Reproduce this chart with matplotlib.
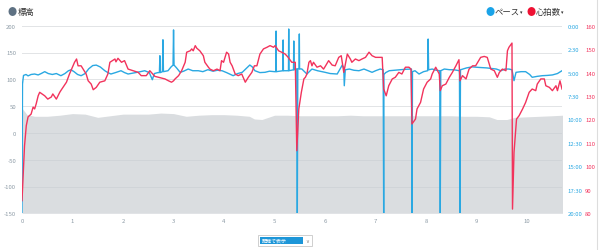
import matplotlib
matplotlib.use("Agg")
import matplotlib.pyplot as plt
from matplotlib.patches import Rectangle

plt.rcParams['font.family'] = ['Noto Sans CJK JP', 'DejaVu Sans']

# ---------------- data ----------------
elev_km = [0.0, 0.1, 0.25, 0.5, 0.75, 1.0, 1.25, 1.5, 1.75, 2.0, 2.25, 2.5, 2.75, 3.0,
           3.25, 3.5, 3.75, 4.0, 4.25, 4.5, 4.6, 4.75, 5.0, 5.25, 5.5, 5.75, 6.0, 6.25,
           6.5, 6.75, 7.0, 7.25, 7.5, 7.75, 8.0, 8.25, 8.5, 8.75, 9.0, 9.25, 9.4, 9.6,
           9.75, 10.0, 10.25, 10.5, 10.7]
elev_m = [46, 34, 31, 31, 33, 36, 35, 29, 32, 35, 35, 35, 37, 36,
          31, 33, 34, 34, 33, 31, 26, 25, 33, 33, 32, 32, 32, 32,
          33, 32, 32, 32, 32, 32, 32, 32, 32, 31, 31, 30, 25, 25,
          29, 30, 31, 32, 33]

pace_km = [0.0, 0.01, 0.03, 0.08, 0.12, 0.18, 0.25, 0.32, 0.38, 0.45, 0.52, 0.6, 0.68,
           0.77, 0.85, 0.92, 0.97, 1.03, 1.1, 1.17, 1.25, 1.32, 1.4, 1.47, 1.55, 1.64,
           1.7, 1.76, 1.85, 1.96, 2.03, 2.1, 2.2, 2.3, 2.43, 2.52, 2.58, 2.62, 2.69,
           2.72, 2.73, 2.74, 2.78, 2.79, 2.80, 2.89, 2.95, 2.99, 3.0, 3.01, 3.06, 3.13,
           3.2, 3.29, 3.38, 3.49, 3.58, 3.68, 3.78, 3.87, 3.96, 4.05, 4.18, 4.27, 4.36,
           4.45, 4.51, 4.56, 4.61, 4.71, 4.81, 4.9, 5.0, 5.025, 5.03, 5.035, 5.165,
           5.17, 5.175, 5.275, 5.28, 5.285, 5.375, 5.38, 5.385, 5.44, 5.45, 5.46, 5.485,
           5.49, 5.495, 5.54, 5.64, 5.74, 5.85, 6.0, 6.1, 6.24, 6.34, 6.37, 6.38, 6.40,
           6.48, 6.57, 6.67, 6.77, 6.85, 6.93, 7.0, 7.09, 7.15, 7.16, 7.165, 7.2, 7.27,
           7.37, 7.47, 7.58, 7.68, 7.71, 7.72, 7.73, 7.78, 7.86, 7.95, 8.03, 8.04, 8.05,
           8.12, 8.2, 8.27, 8.28, 8.29, 8.36, 8.46, 8.55, 8.66, 8.67, 8.68, 8.8, 8.91,
           9.05, 9.2, 9.39, 9.48, 9.56, 9.64, 9.7, 9.74, 9.78, 9.88, 9.97, 10.05, 10.1,
           10.2, 10.3, 10.4, 10.5, 10.6, 10.69]
pace_min = [20.0, 6.2, 5.3, 5.2, 5.35, 5.2, 5.15, 5.25, 5.1, 4.9, 5.1, 5.2, 5.1,
            5.33, 5.1, 4.8, 4.7, 4.9, 5.2, 5.33, 5.1, 4.6, 4.25, 4.2, 4.4, 4.8,
            5.0, 5.15, 5.0, 4.8, 5.0, 5.15, 5.05, 4.95, 4.8, 5.0, 5.76, 5.1, 5.0,
            5.0, 3.2, 5.0, 4.9, 1.5, 4.9, 4.8, 4.4, 4.2, 0.45, 4.2, 4.5, 4.97,
            4.85, 4.62, 4.8, 4.8, 4.9, 4.69, 4.85, 4.75, 4.8, 5.0, 5.33, 5.1, 4.97,
            4.5, 4.19, 4.4, 4.8, 5.0, 4.97, 4.85, 4.9, 4.9, 0.57, 4.9,
            4.8, 1.52, 4.8, 4.8, 0.35, 4.8, 4.7, 1.63, 4.7, 4.6, 20.0, 4.6, 4.6,
            0.88, 4.6, 4.62, 5.15, 4.62, 4.8, 4.97, 5.1, 5.15, 4.2, 4.5, 6.4, 4.7,
            4.62, 4.75, 4.8, 4.62, 4.8, 4.97, 4.8, 4.62, 4.7, 20.0, 5.2, 5.0, 4.8,
            4.75, 4.7, 4.65, 4.62, 4.62, 20.0, 4.9, 4.8, 5.15, 4.9, 4.8, 1.42, 4.7,
            4.62, 4.75, 4.8, 20.0, 4.8, 4.62, 4.69, 4.7, 4.8, 20.0, 4.7, 4.5, 4.39,
            4.45, 4.5, 4.62, 4.8, 4.62, 4.62, 4.7, 5.86, 4.97, 4.9, 4.9, 5.2, 5.5,
            5.4, 5.33, 5.3, 5.25, 5.1, 4.8]

hr_km = [0.0, 0.05, 0.085, 0.12, 0.18, 0.22, 0.25, 0.28, 0.32, 0.35, 0.45, 0.51, 0.58,
         0.61, 0.68, 0.75, 0.78, 0.88, 0.94, 1.04, 1.08, 1.11, 1.17, 1.21, 1.27, 1.31,
         1.37, 1.41, 1.47, 1.54, 1.64, 1.70, 1.74, 1.84, 1.86, 1.90, 1.97, 2.03, 2.10,
         2.20, 2.30, 2.36, 2.46, 2.53, 2.63, 2.70, 2.83, 2.90, 2.96, 3.0, 3.03, 3.10,
         3.16, 3.23, 3.26, 3.33, 3.36, 3.39, 3.43, 3.46, 3.52, 3.59, 3.62, 3.69, 3.72,
         3.79, 3.86, 3.92, 3.95, 3.99, 4.05, 4.09, 4.12, 4.16, 4.22, 4.28, 4.35, 4.42,
         4.48, 4.55, 4.60, 4.65, 4.71, 4.78, 4.85, 4.91, 4.98, 5.01, 5.08, 5.14, 5.21,
         5.27, 5.34, 5.41, 5.44, 5.48, 5.53, 5.58, 5.61, 5.64, 5.68, 5.71, 5.74, 5.77,
         5.84, 5.91, 5.97, 6.01, 6.07, 6.14, 6.20, 6.27, 6.32, 6.37, 6.44, 6.50, 6.53,
         6.60, 6.67, 6.73, 6.80, 6.87, 6.93, 7.00, 7.06, 7.13, 7.16, 7.21, 7.26, 7.33,
         7.39, 7.46, 7.52, 7.59, 7.66, 7.70, 7.72, 7.79, 7.82, 7.89, 7.95, 8.02, 8.09,
         8.12, 8.19, 8.26, 8.28, 8.32, 8.39, 8.46, 8.52, 8.59, 8.65, 8.67, 8.72, 8.79,
         8.85, 8.92, 8.98, 9.08, 9.15, 9.21, 9.28, 9.35, 9.41, 9.45, 9.51, 9.58, 9.61,
         9.64, 9.70, 9.71, 9.74, 9.79, 9.84, 9.91, 9.97, 10.04, 10.10, 10.17, 10.20,
         10.27, 10.34, 10.37, 10.44, 10.50, 10.57, 10.60, 10.65, 10.69]
hr_bpm = [85.4, 108.8, 117.4, 121.1, 122.3, 125.3, 124.5, 126.6, 130.1, 131.6, 130.1, 128.7, 129.6,
          130.9, 128.7, 131.7, 132.7, 135.9, 139.4, 144.4, 145.8, 142.9, 142.9, 141.5, 139.4, 136.5,
          135.1, 132.7, 133.7, 135.9, 136.5, 139.4, 144.4, 145.8, 144.6, 146.1, 144.4, 145.1, 141.5,
          140.8, 140.1, 138.7, 138.7, 140.8, 138.4, 138.0, 137.3, 136.5, 135.9, 136.5, 137.3, 138.7,
          140.8, 144.4, 148.7, 149.3, 150.1, 149.3, 151.5, 150.4, 149.3, 147.2, 144.4, 142.3, 141.5,
          140.8, 141.5, 140.8, 145.1, 144.4, 148.7, 147.9, 144.4, 142.9, 139.4, 138.7, 139.4, 135.9,
          138.0, 140.1, 142.9, 142.9, 147.9, 150.1, 150.8, 151.5, 150.8, 151.5, 149.3, 148.7, 147.9,
          146.5, 144.4, 144.4, 106.7, 124.5, 131.6, 137.3, 138.0, 139.4, 144.4, 145.1, 142.9, 144.4,
          142.3, 142.9, 141.5, 142.9, 145.1, 143.2, 142.9, 146.5, 147.2, 140.1, 147.9, 145.8, 144.4,
          145.8, 145.1, 145.8, 146.5, 148.7, 147.2, 146.5, 146.5, 146.5, 133.0, 130.1, 134.4, 137.3,
          138.0, 140.1, 139.4, 142.3, 142.3, 141.5, 118.1, 120.2, 124.5, 127.3, 133.0, 135.9, 137.3,
          139.4, 142.3, 139.4, 132.3, 134.4, 135.1, 138.0, 140.1, 142.9, 145.5, 136.5, 138.7, 137.3,
          141.5, 142.9, 142.9, 146.5, 146.9, 146.5, 141.5, 140.8, 138.0, 140.1, 141.5, 140.8, 149.3,
          150.8, 152.6, 81.8, 106.0, 120.2, 121.6, 124.5, 127.3, 131.6, 133.0, 132.3, 135.1,
          137.3, 137.3, 134.4, 133.7, 132.3, 134.4, 132.3, 136.5, 133.0]

elev_ticks = [200, 150, 100, 50, 0, -50, -100, -150]
pace_ticks = [0, 2.5, 5, 7.5, 10, 12.5, 15, 17.5, 20]
pace_labels = ["0:00", "2:30", "5:00", "7:30", "10:00", "12:30", "15:00", "17:30", "20:00"]
hr_ticks = [160, 150, 140, 130, 120, 110, 100, 90, 80]
km_ticks = list(range(0, 11))

# ---------------- style ----------------
BLUE = '#2aa8e2'
RED = '#f2335c'
GRAY_FILL = '#dadde0'
TICK_GRAY = '#8d9ba6'

W, H = 600, 251
fig = plt.figure(figsize=(6, 2.51), dpi=100)
left, right, top, bottom = 22, 562, 26.7, 214.3
rect = [left / W, 1 - bottom / H, (right - left) / W, (bottom - top) / H]

ax = fig.add_axes(rect)
ax.fill_between(elev_km, elev_m, -150, color=GRAY_FILL, lw=0, zorder=1)
ax.set_xlim(0, 10.69)
ax.set_ylim(-150, 200)
ax.set_yticks(elev_ticks)
ax.set_yticklabels([str(v) for v in elev_ticks])
ax.set_xticks(km_ticks)
ax.set_xticklabels([str(v) for v in km_ticks])
ax.tick_params(axis='y', length=0, pad=4.3, labelsize=4.3, labelcolor=TICK_GRAY)
ax.tick_params(axis='x', length=0, pad=3.2, labelsize=4.3, labelcolor=TICK_GRAY)
for s in ax.spines.values():
    s.set_visible(False)
ax.grid(axis='y', color='#c9cdd1', lw=0.7, alpha=0.55, zorder=2)
ax.grid(axis='x', visible=False)
ax.set_axisbelow(False)
ax.patch.set_alpha(0)

ax2 = ax.twinx()
ax2.set_position(rect)
ax2.plot(pace_km, pace_min, color=BLUE, lw=1.0, zorder=3)
ax2.set_ylim(20, 0)
ax2.set_yticks(pace_ticks)
ax2.set_yticklabels(pace_labels)
ax2.tick_params(axis='y', length=0, pad=4.3, labelsize=4.3, labelcolor=BLUE)
for s in ax2.spines.values():
    s.set_visible(False)

ax3 = ax.twinx()
ax3.set_position(rect)
ax3.plot(hr_km, hr_bpm, color=RED, lw=1.0, zorder=4)
ax3.set_ylim(80, 160)
ax3.set_yticks(hr_ticks)
ax3.set_yticklabels([str(v) for v in hr_ticks])
ax3.tick_params(axis='y', length=0, pad=16.6, labelsize=4.3, labelcolor=RED)
for s in ax3.spines.values():
    s.set_visible(False)
ax3.set_xlim(0, 10.69)

# ---------------- legends / chrome ----------------
def px(x, y):
    return x / W, 1 - y / H

fig.text(*px(12, 12), '●', color='#5e7183', fontsize=6.5, ha='center', va='center')
fig.text(*px(17.5, 12), '標高', color='#333333', fontsize=6, ha='left', va='center')

fig.text(*px(490, 12), '●', color='#1aa3e8', fontsize=6.5, ha='center', va='center')
fig.text(*px(495, 12), 'ペース', color='#333333', fontsize=6, ha='left', va='center')
fig.text(*px(520, 13), '▾', color='#333333', fontsize=3.5, ha='left', va='center',
         family=['DejaVu Sans'])
fig.text(*px(531, 12), '●', color='#ee1133', fontsize=6.5, ha='center', va='center')
fig.text(*px(536, 12), '心拍数', color='#333333', fontsize=6, ha='left', va='center')
fig.text(*px(561, 13), '▾', color='#333333', fontsize=3.5, ha='left', va='center',
         family=['DejaVu Sans'])

# dropdown box
fig.patches.append(Rectangle((258 / W, 1 - 247 / H), 54 / W, 11 / H, transform=fig.transFigure,
                             facecolor='white', edgecolor='#c8c8c8', lw=0.6))
fig.patches.append(Rectangle((260 / W, 1 - 245 / H), 43 / W, 7 / H, transform=fig.transFigure,
                             facecolor='#1d96d8', edgecolor='none'))
fig.text(*px(262, 241.5), '距離で表示', color='white', fontsize=3.6, ha='left', va='center')
fig.text(*px(307, 241.5), '∨', color='#888888', fontsize=3.8, ha='center', va='center',
         family=['DejaVu Sans'])

# right edge border
fig.add_artist(plt.Line2D([597 / W, 597 / W], [0, 1], transform=fig.transFigure,
                          color='#dddddd', lw=0.8))

fig.savefig('out.png', dpi=100)
